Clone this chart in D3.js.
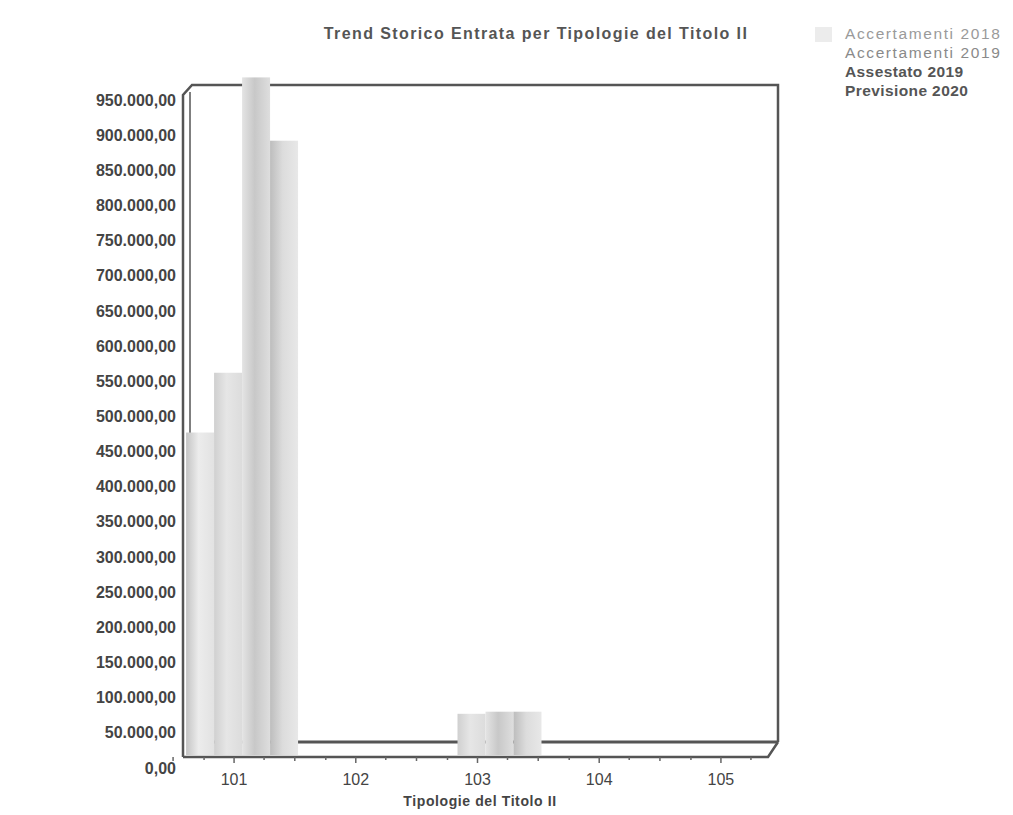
<!DOCTYPE html>
<meta charset="utf-8">
<style>
    html, body { margin: 0; background: #fff; }
    text { font-family: "Liberation Sans", Arial, sans-serif; }
</style>
<body>
<script src="https://cdnjs.cloudflare.com/ajax/libs/d3/7.8.5/d3.min.js"></script>
<svg id="chart" width="1013" height="815"></svg>
<script>
  // dati
  var categories = ["101", "102", "103", "104", "105"];
  var series = ["Accertamenti 2018", "Accertamenti 2019", "Assestato 2019", "Previsione 2020"];
  var acc2018 = [460000, 0, 0, 0, 0];
  var acc2019 = [545000, 0, 60000, 0, 0];
  var ass2019 = [965000, 0, 63000, 0, 0];
  var prev2020 = [875000, 0, 63000, 0, 0];
  var yTicks = d3.range(0, 1000000, 50000);

  var values = [acc2018, acc2019, ass2019, prev2020];
  var legendColors = ["#9a9a9a", "#8a8a8a", "#555", "#555"];
  var legendWeight = ["normal", "normal", "bold", "bold"];
  var legendSpacing = [1.6, 1.6, 0.4, 0.4];
  var barShades = [
    ["#c4c4c4", "#ececec", "#e2e2e2"],
    ["#d0d0d0", "#e6e6e6", "#dcdcdc"],
    ["#e4e4e4", "#c8c8c8", "#dedede"],
    ["#bdbdbd", "#dcdcdc", "#e8e8e8"]
  ];

  var svg = d3.select("#chart");
  var itFmt = d3.formatLocale({decimal: ",", thousands: ".", grouping: [3], currency: ["", "€"]}).format(",.2f");

  var y = d3.scaleLinear().domain([0, 1000000]).range([768, 768 - 20 * 35.16]);
  var x = d3.scaleBand().domain(categories).range([172, 783]).paddingInner(0.08).paddingOuter(0.05);
  var xs = d3.scaleBand().domain(series).range([0, x.bandwidth()]);
  var depth = 12, shift = 8;

  // gradienti
  var defs = svg.append("defs");
  barShades.forEach(function (s, i) {
    var g = defs.append("linearGradient").attr("id", "g" + i).attr("x1", 0).attr("x2", 1).attr("y1", 0).attr("y2", 0);
    g.append("stop").attr("offset", "0").attr("stop-color", s[0]);
    g.append("stop").attr("offset", "0.45").attr("stop-color", s[1]);
    g.append("stop").attr("offset", "1").attr("stop-color", s[2]);
  });

  // cornice 3D
  var frameTop = 85, frameRight = 778, backY = 742, frontY = 757, frameLeft = 183;
  var frame = svg.append("g").attr("fill", "none").attr("stroke", "#555").attr("stroke-width", 2.5);
  frame.append("path").attr("d", "M" + frameLeft + "," + frontY + "L" + frameLeft + ",95L192," + frameTop +
    "L" + frameRight + "," + frameTop + "L" + frameRight + "," + backY);
  frame.append("path").attr("d", "M190,92L190," + backY).attr("stroke-width", 1.5);
  frame.append("path").attr("d", "M190," + backY + "L" + frameRight + "," + backY).attr("stroke-width", 3);
  frame.append("path").attr("d", "M" + frameLeft + "," + frontY + "L768," + frontY + "L" + frameRight + "," + backY);

  // barre
  categories.forEach(function (c, ci) {
    series.forEach(function (s, si) {
      var v = values[si][ci];
      if (!v) return;
      svg.append("rect")
        .attr("x", x(c) + xs(s) + shift)
        .attr("y", y(v) - depth)
        .attr("width", xs.bandwidth())
        .attr("height", y(0) - y(v) - 1)
        .attr("fill", "url(#g" + si + ")");
    });
  });

  // tacche asse x
  var tickG = svg.append("g").attr("stroke", "#666").attr("stroke-width", 1.5);
  categories.forEach(function (c) {
    var cx = x(c) + x.bandwidth() / 2;
    tickG.append("line").attr("x1", cx).attr("x2", cx).attr("y1", frontY).attr("y2", frontY + 6);
    tickG.append("line").attr("x1", cx - 61).attr("x2", cx - 61).attr("y1", frontY).attr("y2", frontY + 4);
    tickG.append("line").attr("x1", cx + 30).attr("x2", cx + 30).attr("y1", frontY).attr("y2", frontY + 3);
    tickG.append("line").attr("x1", cx - 30).attr("x2", cx - 30).attr("y1", frontY).attr("y2", frontY + 3);
  });

  // etichette asse y
  svg.append("g").selectAll("text").data(yTicks).enter().append("text")
    .attr("x", 176).attr("y", function (d) { return y(d); })
    .attr("dy", "0.35em").attr("text-anchor", "end")
    .attr("font-size", 16).attr("font-weight", "bold").attr("fill", "#444")
    .text(function (d) { return itFmt(d); });

  // etichette asse x
  svg.append("g").selectAll("text").data(categories).enter().append("text")
    .attr("x", function (d) { return x(d) + x.bandwidth() / 2; }).attr("y", 785)
    .attr("text-anchor", "middle").attr("font-size", 16).attr("fill", "#444")
    .text(function (d) { return d; });

  svg.append("text").attr("x", 480).attr("y", 806).attr("text-anchor", "middle")
    .attr("font-size", 14).attr("font-weight", "bold").attr("fill", "#444").attr("letter-spacing", 0.6)
    .text("Tipologie del Titolo II");

  svg.append("text").attr("x", 536).attr("y", 39).attr("text-anchor", "middle")
    .attr("font-size", 16).attr("font-weight", "bold").attr("fill", "#555").attr("letter-spacing", 1.4)
    .text("Trend Storico Entrata per Tipologie del Titolo II");

  // legenda
  var leg = svg.append("g");
  leg.append("rect").attr("x", 815).attr("y", 27).attr("width", 17).attr("height", 15).attr("fill", "#ececec");
  series.forEach(function (s, i) {
    leg.append("text").attr("x", 845).attr("y", 39 + i * 19)
      .attr("font-size", 15.5).attr("font-weight", legendWeight[i]).attr("fill", legendColors[i])
      .attr("letter-spacing", legendSpacing[i])
      .text(s);
  });
</script>
</body>
